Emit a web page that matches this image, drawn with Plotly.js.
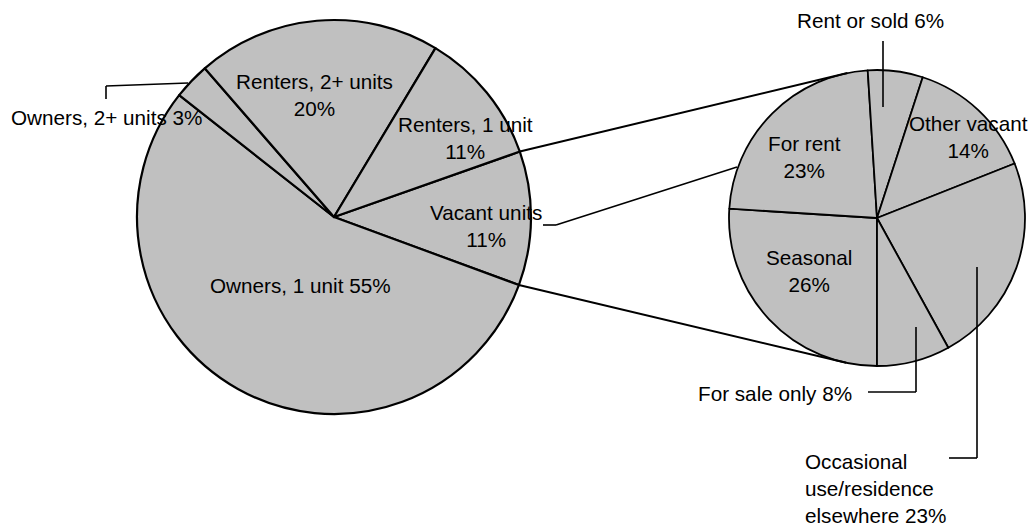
<!DOCTYPE html>
<html><head><meta charset="utf-8">
<script src="https://cdn.plot.ly/plotly-3.0.1.min.js"></script>
<style>html,body{margin:0;padding:0;background:#fff;} #chart{width:1030px;height:527px;}</style>
</head><body><div id="chart"></div>
<script>
// ---- Data ----
const mainCategories = ["Vacant units", "Owners, 1 unit", "Owners, 2+ units", "Renters, 2+ units", "Renters, 1 unit"];
const mainValues = [11, 55, 3, 20, 11];
const vacantCategories = ["Seasonal", "For rent", "Rent or sold", "Other vacant", "Occasional use/residence elsewhere", "For sale only"];
const vacantValues = [26, 23, 6, 14, 23, 8];

// ---- Label text layout ----
const mainLabelNames = ["Vacant units", "Owners, 1 unit", "Owners, 2+ units", "Renters, 2+ units", "Renters, 1 unit"];
const mainLabelBreak = ["<br>", " ", " ", "<br>", "<br>"];
const vacantLabelNames = ["Seasonal", "For rent", "Rent or sold", "Other vacant", "Occasional<br>use/residence<br>elsewhere", "For sale only"];
const vacantLabelBreak = ["<br>", "<br>", " ", "<br>", " ", " "];

// ---- Geometry (pixels) ----
const W = 1030, H = 527;
const mainPie = {cx: 334, cy: 217, r: 197, rotation: 70.6};
const subPie = {cx: 877, cy: 218, r: 148, rotation: 180};
const mainLabelPos = [[486, 226, "center"], [300, 285, "center"], [106, 117, "center"], [314, 95, "center"], [465, 137.5, "center"]];
const vacantLabelPos = [[809, 271, "center"], [804, 157, "center"], [870, 21, "center"], [968, 137, "center"], [804, 488, "left"], [775, 393, "center"]];
const connectorSubAngles = [348.5, 192];
const leaderPaths = [
  [[106, 99], [106, 86], [188, 83]],
  [[543, 225], [556, 225], [737, 167]],
  [[883, 41], [883, 107]],
  [[868, 392], [916, 392], [916, 327]],
  [[949, 458], [977, 458], [977, 267]]
];

const px = x => x / W;
const py = y => 1 - y / H;
function domainOf(p) {
  return {x: [px(p.cx - p.r), px(p.cx + p.r)], y: [py(p.cy + p.r), py(p.cy - p.r)]};
}
function pointAt(p, deg) {
  const a = deg * Math.PI / 180;
  return [p.cx + p.r * Math.sin(a), p.cy - p.r * Math.cos(a)];
}

const FONT = {family: "Liberation Sans, Arial, sans-serif", size: 20.7, color: "#000"};
const FILL = "#c0c0c0";

const traces = [
  {
    type: "pie", labels: mainCategories, values: mainValues, sort: false,
    direction: "clockwise", rotation: mainPie.rotation, textinfo: "none",
    hoverinfo: "label+value", domain: domainOf(mainPie),
    marker: {colors: mainValues.map(() => FILL), line: {color: "#000", width: 2.2}},
    showlegend: false
  },
  {
    type: "pie", labels: vacantCategories, values: vacantValues, sort: false,
    direction: "clockwise", rotation: subPie.rotation, textinfo: "none",
    hoverinfo: "label+value", domain: domainOf(subPie),
    marker: {colors: vacantValues.map(() => FILL), line: {color: "#000", width: 1.8}},
    showlegend: false
  }
];

const annotations = [];
mainLabelNames.forEach((n, i) => {
  const [x, y, anc] = mainLabelPos[i];
  annotations.push({text: n + mainLabelBreak[i] + mainValues[i] + "%", x: px(x), y: py(y),
    xref: "paper", yref: "paper", xanchor: anc, yanchor: "middle", align: anc, showarrow: false, font: FONT, borderpad: 0});
});
vacantLabelNames.forEach((n, i) => {
  const [x, y, anc] = vacantLabelPos[i];
  annotations.push({text: n + vacantLabelBreak[i] + vacantValues[i] + "%", x: px(x), y: py(y),
    xref: "paper", yref: "paper", xanchor: anc, yanchor: "middle", align: anc, showarrow: false, font: FONT, borderpad: 0});
});

const shapes = [];
// connectors: from the edges of the vacant slice to the secondary pie
const total = mainValues.reduce((a, b) => a + b, 0);
const vacStart = mainPie.rotation;
const vacEnd = mainPie.rotation + 360 * mainValues[0] / total;
[[vacStart, connectorSubAngles[0]], [vacEnd, connectorSubAngles[1]]].forEach(([a, b]) => {
  const p0 = pointAt(mainPie, a), p1 = pointAt(subPie, b);
  shapes.push({type: "line", xref: "paper", yref: "paper", x0: px(p0[0]), y0: py(p0[1]), x1: px(p1[0]), y1: py(p1[1]),
    line: {color: "#000", width: 2}});
});
leaderPaths.forEach(pts => {
  for (let k = 0; k < pts.length - 1; k++) {
    shapes.push({type: "line", xref: "paper", yref: "paper",
      x0: px(pts[k][0]), y0: py(pts[k][1]), x1: px(pts[k + 1][0]), y1: py(pts[k + 1][1]),
      line: {color: "#000", width: 1.6}});
  }
});

Plotly.newPlot("chart", traces, {
  width: W, height: H, margin: {l: 0, r: 0, t: 0, b: 0},
  paper_bgcolor: "#fff", plot_bgcolor: "#fff", showlegend: false,
  annotations, shapes
}, {displayModeBar: false, staticPlot: true});
</script></body></html>
